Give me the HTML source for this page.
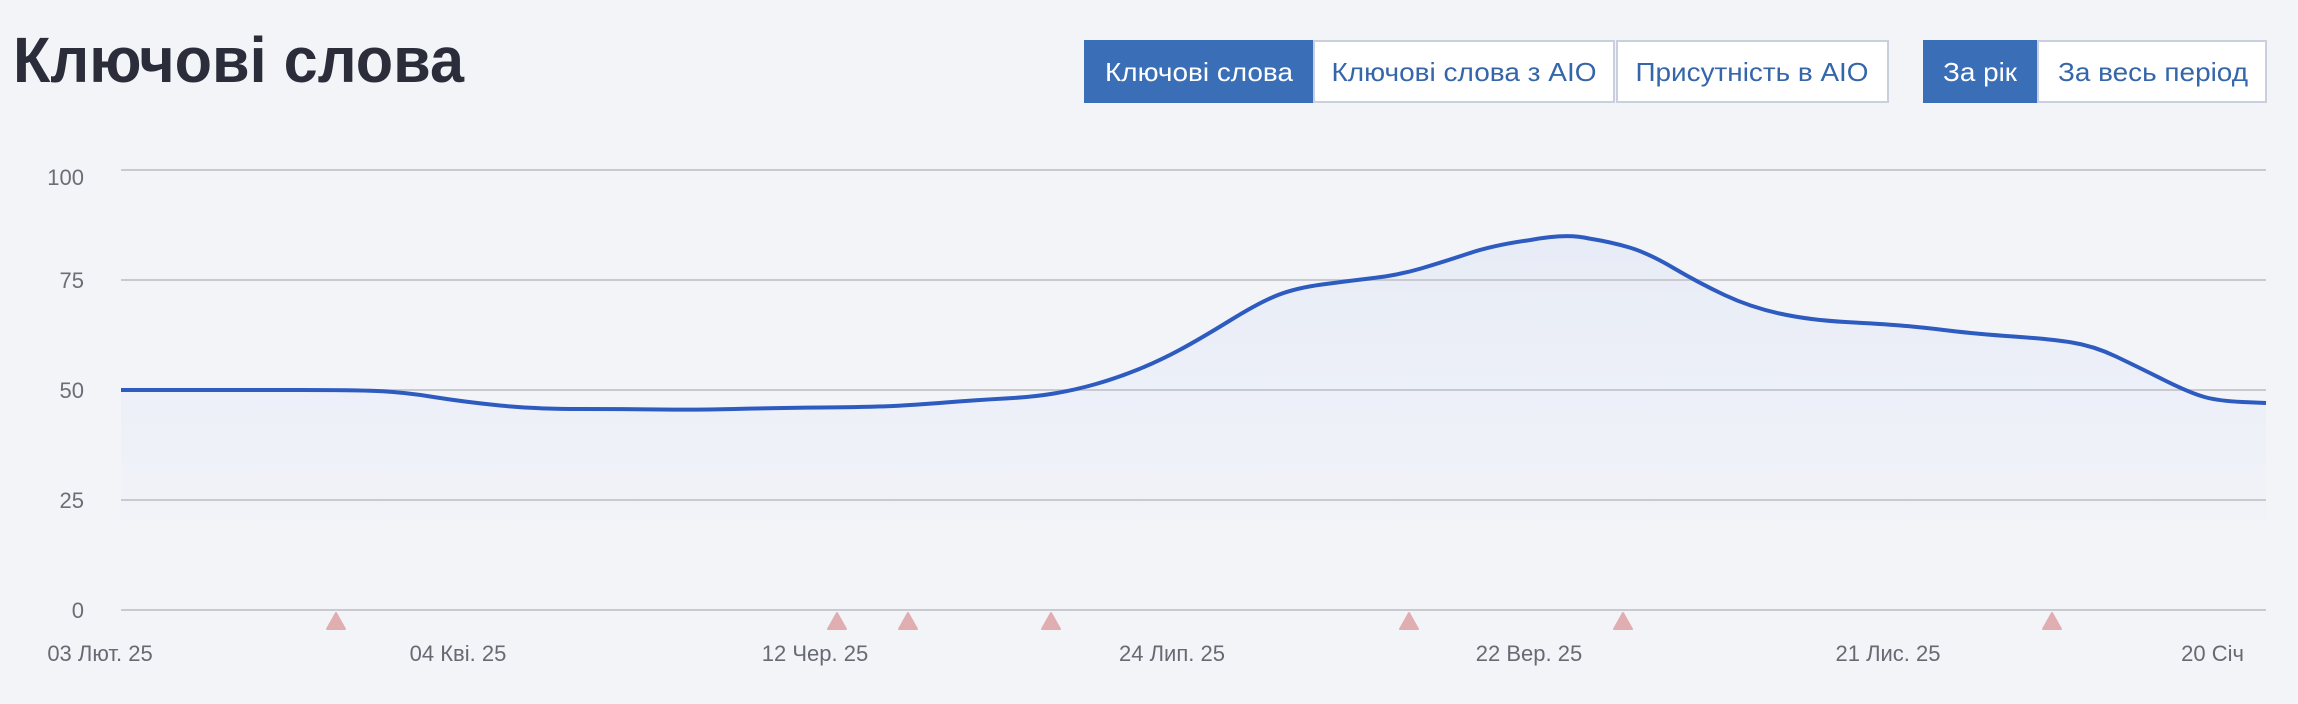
<!DOCTYPE html>
<html>
<head>
<meta charset="utf-8">
<style>
  html, body { margin:0; padding:0; background:#f3f4f8; }
  body { width:2298px; height:704px; overflow:hidden; }
  svg { display:block; }
  text { font-family: "Liberation Sans", "Noto Sans CJK SC", sans-serif; }
</style>
</head>
<body>
<svg width="2298" height="704" viewBox="0 0 2298 704" xmlns="http://www.w3.org/2000/svg">
  <defs>
    <linearGradient id="fillg" gradientUnits="userSpaceOnUse" x1="0" y1="237" x2="0" y2="535">
      <stop offset="0" stop-color="#e8ecf6"/>
      <stop offset="0.55" stop-color="#edf0f8"/>
      <stop offset="0.85" stop-color="#f0f2f8"/>
      <stop offset="1" stop-color="#f3f4f8"/>
    </linearGradient>
  </defs>
  <rect x="0" y="0" width="2298" height="704" fill="#f3f4f8"/>

  <!-- Title -->
  <text x="13" y="82" font-size="64" font-weight="bold" fill="#2b2e3a" textLength="451" lengthAdjust="spacingAndGlyphs">Ключові слова</text>

  <!-- Buttons group 1 -->
  <rect x="1084" y="40" width="229" height="63" fill="#3a6fb8"/>
  <text x="1199" y="81" font-size="26" fill="#ffffff" text-anchor="middle" textLength="188" lengthAdjust="spacingAndGlyphs">Ключові слова</text>
  <rect x="1314" y="41" width="300" height="61" fill="#ffffff" stroke="#c9cfdd" stroke-width="2"/>
  <text x="1464" y="81" font-size="26" fill="#3566aa" text-anchor="middle" textLength="265" lengthAdjust="spacingAndGlyphs">Ключові слова з AIO</text>
  <rect x="1617" y="41" width="271" height="61" fill="#ffffff" stroke="#c9cfdd" stroke-width="2"/>
  <text x="1752" y="81" font-size="26" fill="#3566aa" text-anchor="middle" textLength="233" lengthAdjust="spacingAndGlyphs">Присутність в AIO</text>

  <!-- Buttons group 2 -->
  <rect x="1923" y="40" width="114" height="63" fill="#3a6fb8"/>
  <text x="1980" y="81" font-size="26" fill="#ffffff" text-anchor="middle" textLength="74" lengthAdjust="spacingAndGlyphs">За рік</text>
  <rect x="2038" y="41" width="228" height="61" fill="#ffffff" stroke="#c9cfdd" stroke-width="2"/>
  <text x="2153" y="81" font-size="26" fill="#3566aa" text-anchor="middle" textLength="190" lengthAdjust="spacingAndGlyphs">За весь період</text>

  <!-- Area fill -->
  <path d="M121,390 L185.5,390 Q250,390 301,390 Q352,390 377,391 Q402,392 433.5,397 Q465,402 500,405.5 Q535,409 580.5,409 Q626,409 661,409.5 Q696,410 734.5,409 Q773,408 822.5,407.5 Q872,407 893,406 Q914,405 945.5,402.5 Q977,400 1005,398.5 Q1033,397 1054,393.5 Q1075,390 1096,384 Q1117,378 1138,369.5 Q1159,361 1179.5,350 Q1200,339 1230,320.5 Q1260,302 1278,295 Q1296,288 1322,284.5 Q1348,281 1373.5,278 Q1399,275 1421,268.5 Q1443,262 1468.5,253.5 Q1494,245 1530.5,240 Q1567,233 1589,238.5 Q1611,242 1629.5,247.5 Q1648,253 1673.5,268 Q1699,283 1724.5,295 Q1750,307 1779.5,313.5 Q1809,320 1845.5,322 Q1882,324 1900.5,325.5 Q1919,327 1948,330.5 Q1977,334 2013.5,336.5 Q2050,339 2072,342.5 Q2094,346 2116,356.5 Q2138,367 2164,380 Q2190,393 2204.5,397 Q2219,401 2242.5,402 L2266,403 L2266,536 L121,536 Z" fill="url(#fillg)"/>

  <!-- Gridlines -->
  <g stroke="#c9cacf" stroke-width="2">
    <line x1="121" y1="170" x2="2266" y2="170"/>
    <line x1="121" y1="280" x2="2266" y2="280"/>
    <line x1="121" y1="390" x2="2266" y2="390"/>
    <line x1="121" y1="500" x2="2266" y2="500"/>
    <line x1="121" y1="610" x2="2266" y2="610"/>
  </g>

  <!-- Y labels -->
  <g font-size="22" fill="#6b6e76" text-anchor="end">
    <text x="84" y="185">100</text>
    <text x="84" y="288">75</text>
    <text x="84" y="398">50</text>
    <text x="84" y="508">25</text>
    <text x="84" y="618">0</text>
  </g>

  <!-- Line -->
  <path d="M121,390 L185.5,390 Q250,390 301,390 Q352,390 377,391 Q402,392 433.5,397 Q465,402 500,405.5 Q535,409 580.5,409 Q626,409 661,409.5 Q696,410 734.5,409 Q773,408 822.5,407.5 Q872,407 893,406 Q914,405 945.5,402.5 Q977,400 1005,398.5 Q1033,397 1054,393.5 Q1075,390 1096,384 Q1117,378 1138,369.5 Q1159,361 1179.5,350 Q1200,339 1230,320.5 Q1260,302 1278,295 Q1296,288 1322,284.5 Q1348,281 1373.5,278 Q1399,275 1421,268.5 Q1443,262 1468.5,253.5 Q1494,245 1530.5,240 Q1567,233 1589,238.5 Q1611,242 1629.5,247.5 Q1648,253 1673.5,268 Q1699,283 1724.5,295 Q1750,307 1779.5,313.5 Q1809,320 1845.5,322 Q1882,324 1900.5,325.5 Q1919,327 1948,330.5 Q1977,334 2013.5,336.5 Q2050,339 2072,342.5 Q2094,346 2116,356.5 Q2138,367 2164,380 Q2190,393 2204.5,397 Q2219,401 2242.5,402 L2266,403" fill="none" stroke="#2d5bc0" stroke-width="4" stroke-linejoin="round" stroke-linecap="butt"/>

  <!-- Triangles -->
  <g fill="#e0aeb0" stroke="#e0aeb0" stroke-width="2" stroke-linejoin="round">
    <polygon points="336,613 327,629 345,629"/>
    <polygon points="837,613 828,629 846,629"/>
    <polygon points="908,613 899,629 917,629"/>
    <polygon points="1051,613 1042,629 1060,629"/>
    <polygon points="1409,613 1400,629 1418,629"/>
    <polygon points="1623,613 1614,629 1632,629"/>
    <polygon points="2052,613 2043,629 2061,629"/>
  </g>

  <!-- X labels -->
  <g font-size="22" fill="#666a73" text-anchor="middle">
    <text x="100" y="661">03 Лют. 25</text>
    <text x="458" y="661">04 Кві. 25</text>
    <text x="815" y="661">12 Чер. 25</text>
    <text x="1172" y="661">24 Лип. 25</text>
    <text x="1529" y="661">22 Вер. 25</text>
    <text x="1888" y="661">21 Лис. 25</text>
    <text x="2244" y="661" text-anchor="end">20 Січ</text>
  </g>
</svg>
</body>
</html>
